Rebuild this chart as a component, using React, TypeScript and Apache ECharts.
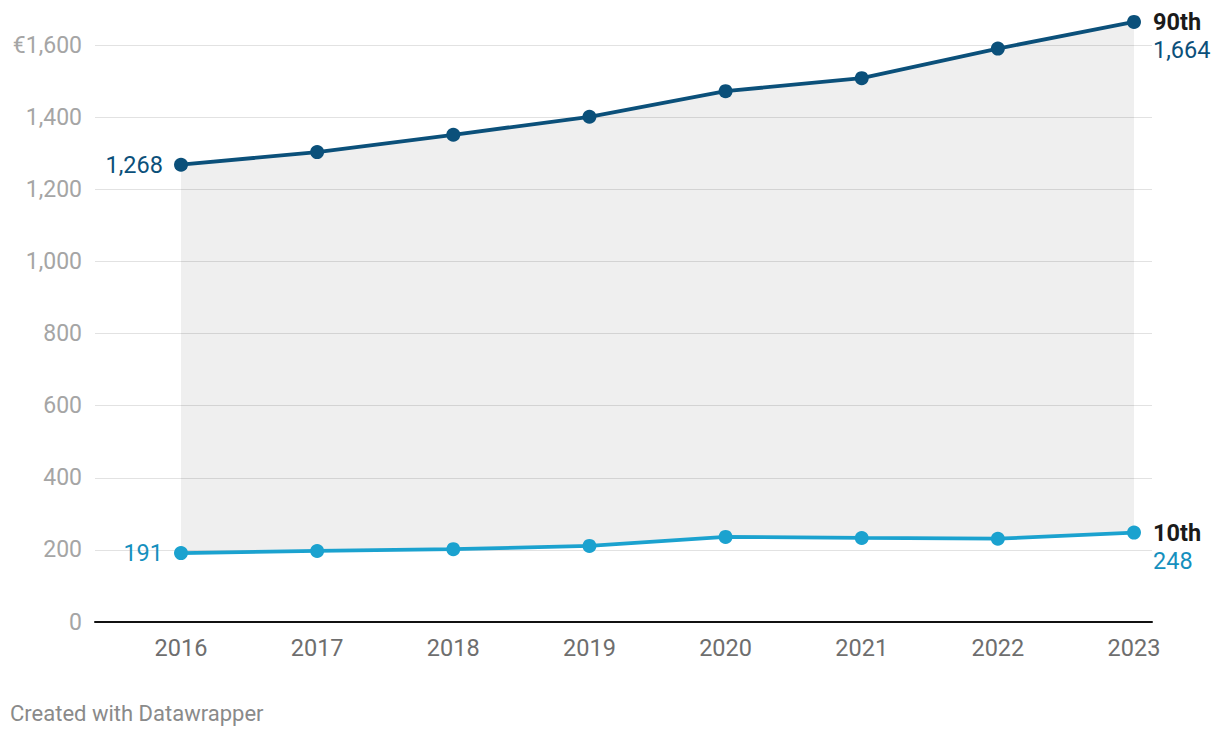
import React, { useEffect, useRef } from "react";
import * as echarts from "echarts";

const years = ["2016", "2017", "2018", "2019", "2020", "2021", "2022", "2023"];
const p90 = [1268, 1303, 1351, 1401, 1472, 1508, 1590, 1664];
const p10 = [191, 197, 202, 211, 236, 233, 231, 248];
const yMin = 0;
const yMax = 1600;
const yStep = 200;

const C90 = "#0b507a";
const C10 = "#1ba2cf";
const C10T = "#1590be";
const FONT = "Roboto";
const LBL = 23.5;

const fmt = (v: number) => v.toLocaleString("en-US");

export default function App() {
  const ref = useRef<HTMLDivElement>(null);
  useEffect(() => {
    if (!ref.current) return;
    const chart = echarts.init(ref.current, null, { renderer: "svg" });
    const last = years.length - 1;
    const mk = (vals: number[], textColor: string, name: string) =>
      vals.map((v, i) => {
        if (i === 0) {
          return {
            value: v,
            label: {
              show: true,
              position: "left",
              distance: 11,
              formatter: fmt(v),
              color: textColor,
              fontSize: LBL,
              fontFamily: FONT,
            },
          };
        }
        if (i === last) {
          return {
            value: v,
            label: {
              show: true,
              position: "right",
              distance: 12,
              offset: [0, 14],
              align: "left",
              formatter: `{t|${name}}\n{v|${fmt(v)}}`,
              rich: {
                t: { fontWeight: "bold", color: "#1a1a1a", fontSize: LBL, lineHeight: 28, fontFamily: FONT },
                v: { color: textColor, fontSize: LBL, lineHeight: 28, fontFamily: FONT },
              },
            },
          };
        }
        return v;
      });

    chart.setOption({
      animation: false,
      textStyle: { fontFamily: FONT },
      title: {
        text: "Created with Datawrapper",
        left: 5,
        top: 697,
        textStyle: { fontSize: 22, fontWeight: "normal", color: "#8a8a8a", fontFamily: FONT },
      },
      grid: [
        { left: 95, right: 68, top: 45, bottom: 116 },
        { left: 181, right: 86, top: 45, bottom: 116 },
      ],
      xAxis: [
        {
          type: "value",
          gridIndex: 0,
          min: 0,
          max: 1,
          axisLabel: { show: false },
          axisTick: { show: false },
          splitLine: { show: false },
          axisLine: { show: true, lineStyle: { color: "#111", width: 2 } },
          z: 5,
        },
        {
          type: "category",
          gridIndex: 1,
          data: years,
          boundaryGap: false,
          axisLine: { show: false },
          axisTick: { show: false },
          axisLabel: { color: "#6e6e6e", fontSize: LBL, margin: 14, fontFamily: FONT },
        },
      ],
      yAxis: [
        {
          type: "value",
          gridIndex: 0,
          min: yMin,
          max: yMax,
          interval: yStep,
          axisLine: { show: false },
          axisTick: { show: false },
          axisLabel: {
            color: "#a5a5a5",
            fontSize: 23,
            margin: 13,
            fontFamily: FONT,
            formatter: (v: number) => (v === yMax ? "€" + fmt(v) : fmt(v)),
          },
          splitLine: { lineStyle: { color: "#e2e2e2", width: 1 } },
        },
        {
          type: "value",
          gridIndex: 1,
          min: yMin,
          max: yMax,
          show: false,
          splitLine: { show: false },
        },
      ],
      series: [
        {
          type: "line",
          xAxisIndex: 1,
          yAxisIndex: 1,
          stack: "band",
          data: p10,
          symbol: "none",
          lineStyle: { opacity: 0 },
          silent: true,
          clip: false,
          z: 1,
        },
        {
          type: "line",
          xAxisIndex: 1,
          yAxisIndex: 1,
          stack: "band",
          data: p90.map((v, i) => v - p10[i]),
          symbol: "none",
          lineStyle: { opacity: 0 },
          areaStyle: { color: "rgba(0,0,0,0.063)", opacity: 1 },
          silent: true,
          clip: false,
          z: 1,
        },
        {
          type: "line",
          name: "90th",
          xAxisIndex: 1,
          yAxisIndex: 1,
          data: mk(p90, C90, "90th"),
          symbol: "circle",
          symbolSize: 14,
          itemStyle: { color: C90 },
          lineStyle: { color: C90, width: 3.8 },
          clip: false,
          z: 3,
        },
        {
          type: "line",
          name: "10th",
          xAxisIndex: 1,
          yAxisIndex: 1,
          data: mk(p10, C10T, "10th"),
          symbol: "circle",
          symbolSize: 14,
          itemStyle: { color: C10 },
          lineStyle: { color: C10, width: 3.8 },
          clip: false,
          z: 3,
        },
      ],
    });
    return () => chart.dispose();
  }, []);
  return (
    <div
      ref={ref}
      style={{ position: "fixed", left: 0, top: 0, width: 1220, height: 738, background: "#fff" }}
    />
  );
}
